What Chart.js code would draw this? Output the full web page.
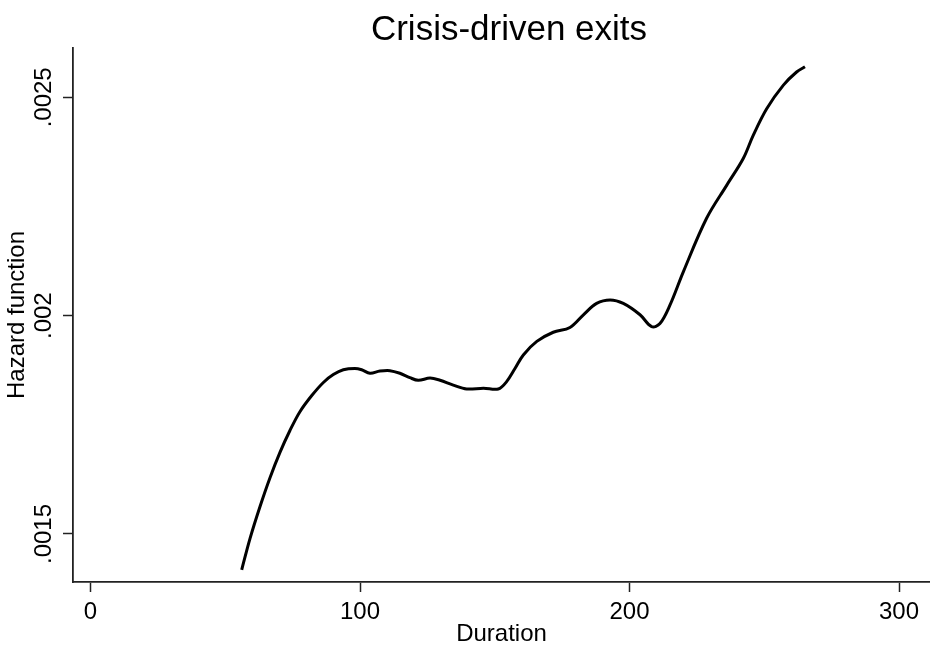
<!DOCTYPE html>
<html>
<head>
<meta charset="utf-8">
<title>Crisis-driven exits</title>
<script src="https://cdn.jsdelivr.net/npm/chart.js@4.4.1/dist/chart.umd.min.js"></script>
<style>
    body { margin: 0; background: #fff; }
    #wrap { width: 930px; height: 652px; }
</style>
</head>
<body>
<div id="wrap"><canvas id="hazard-chart" width="930" height="652"></canvas></div>
<script>
// Smoothed hazard estimate
const durations = [56.1, 59.2, 62.9, 66.6, 70.3, 74.0, 77.7, 82.1, 86.4, 90.1, 93.8, 98.1, 100.6, 103.7, 107.4, 111.1, 114.8, 118.5, 121.6, 126.0, 129.7, 134.6, 139.6, 145.8, 151.3, 154.4, 157.5, 160.6, 165.6, 171.7, 177.9, 182.9, 187.8, 192.8, 197.7, 203.9, 208.2, 211.3, 215.0, 220.0, 228.6, 236.1, 242.2, 245.9, 250.9, 257.1, 262.0, 265.1];
const hazard = [0.001418, 0.001490, 0.001563, 0.001629, 0.001687, 0.001737, 0.001780, 0.001817, 0.001847, 0.001865, 0.001876, 0.001879, 0.001876, 0.001868, 0.001873, 0.001874, 0.001868, 0.001858, 0.001852, 0.001857, 0.001852, 0.001841, 0.001832, 0.001834, 0.001832, 0.001849, 0.001879, 0.001910, 0.001941, 0.001962, 0.001973, 0.002002, 0.002028, 0.002036, 0.002028, 0.002002, 0.001975, 0.001982, 0.002024, 0.002101, 0.002223, 0.002299, 0.002360, 0.002413, 0.002474, 0.002528, 0.002558, 0.002570];

const xTicks = [0, 100, 200, 300];
const yTicks = [0.0015, 0.002, 0.0025];
const yTickLabels = ['.0015', '.002', '.0025'];

const chartTitle = 'Crisis-driven exits';

// title is centred on the plot region of the original, not on the canvas
const titlePlugin = {
    id: 'plotTitle',
    afterDraw(chart) {
        const ctx = chart.ctx;
        ctx.save();
        ctx.font = '35px "Liberation Sans", Arial, sans-serif';
        ctx.fillStyle = '#000';
        ctx.textAlign = 'center';
        ctx.textBaseline = 'alphabetic';
        ctx.fillText(chartTitle, 509, 40);
        ctx.restore();
    }
};

const dataForHazard = {
    datasets: [
        {
            label: 'Hazard function',
            data: durations.map((d, i) => ({ x: d, y: hazard[i] })),
            borderColor: '#000',
            borderWidth: 3,
            pointRadius: 0,
            fill: false,
            tension: 0.35
        }
    ]
};

const axisFont = { family: '"Liberation Sans", Arial, sans-serif', size: 24 };

const configForHazard = {
    type: 'line',
    data: dataForHazard,
    plugins: [titlePlugin],
    options: {
        responsive: false,
        animation: false,
        layout: { padding: { top: 48, left: 0, right: 0, bottom: 0 } },
        plugins: {
            legend: { display: false },
            title: { display: false },
            tooltip: { enabled: false }
        },
        scales: {
            x: {
                type: 'linear',
                min: -6.5,
                max: 311.5,
                afterBuildTicks: (scale) => { scale.ticks = xTicks.map(v => ({ value: v })); },
                afterFit: (scale) => { scale.height = 70; },
                grid: {
                    drawOnChartArea: false,
                    drawTicks: true,
                    tickLength: 10,
                    tickWidth: 1.5,
                    tickColor: '#222'
                },
                border: { display: true, color: '#222', width: 1.8 },
                ticks: {
                    autoSkip: false,
                    maxRotation: 0,
                    padding: 6,
                    color: '#000',
                    font: axisFont
                },
                title: {
                    display: true,
                    text: 'Duration',
                    color: '#000',
                    font: axisFont,
                    padding: { top: 0, bottom: 3 }
                }
            },
            y: {
                min: 0.00139,
                max: 0.002613,
                afterBuildTicks: (scale) => { scale.ticks = yTicks.map(v => ({ value: v })); },
                afterFit: (scale) => { scale.width = 73; },
                grid: {
                    drawOnChartArea: false,
                    drawTicks: true,
                    tickLength: 10,
                    tickWidth: 1.5,
                    tickColor: '#222'
                },
                border: { display: true, color: '#222', width: 1.8 },
                ticks: {
                    minRotation: 90,
                    maxRotation: 90,
                    crossAlign: 'center',
                    padding: -11,
                    color: '#000',
                    font: axisFont,
                    callback: (value) => {
                        const i = yTicks.findIndex(t => Math.abs(t - value) < 1e-9);
                        return i >= 0 ? yTickLabels[i] : '';
                    }
                },
                title: {
                    display: true,
                    text: 'Hazard function',
                    color: '#000',
                    font: axisFont,
                    padding: { top: 3, bottom: 0 }
                }
            }
        }
    }
};

const hazardChart = new Chart(
    document.getElementById('hazard-chart'),
    configForHazard
);
</script>
</body>
</html>
